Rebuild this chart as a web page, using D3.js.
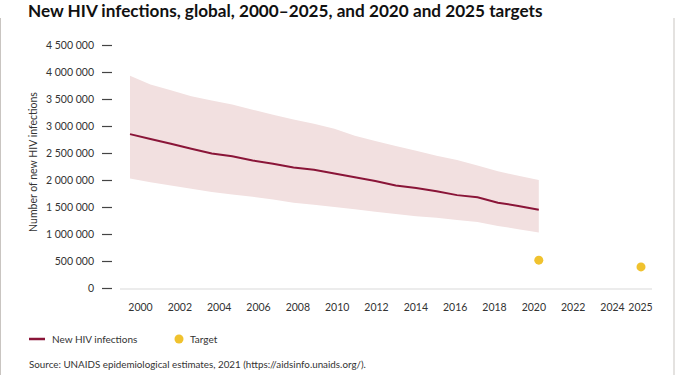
<!DOCTYPE html>
<html>
<head>
<meta charset="utf-8">
<script src="https://cdn.jsdelivr.net/npm/d3@7"></script>
<style>
  body { margin: 0; background: #fff; }
  svg { display: block; font-family: Lato, "Open Sans", sans-serif; }
</style>
</head>
<body>
<div id="chart"></div>
<script>
// data
const years = d3.range(2000, 2021);
const infections = [2850000, 2760000, 2670000, 2580000, 2490000, 2440000, 2360000, 2300000, 2230000, 2190000, 2120000,
    2050000, 1980000, 1900000, 1850000, 1790000, 1720000, 1680000, 1580000, 1520000, 1450000];
const upper = [3930000, 3770000, 3660000, 3550000, 3470000, 3400000, 3300000, 3210000, 3120000, 3040000, 2950000,
    2820000, 2720000, 2630000, 2540000, 2450000, 2370000, 2270000, 2160000, 2080000, 2000000];
const lower = [2030000, 1960000, 1900000, 1840000, 1780000, 1730000, 1690000, 1640000, 1580000, 1540000, 1500000,
    1460000, 1410000, 1370000, 1330000, 1300000, 1260000, 1220000, 1150000, 1090000, 1030000];
const targetYears = [2020, 2025];
const targets = [515000, 390000];
const xTicks = [2000, 2002, 2004, 2006, 2008, 2010, 2012, 2014, 2016, 2018, 2020, 2022, 2024, 2025];
const yTicks = d3.range(0, 4500001, 500000);

(function () {
    let width = 675, height = 375;
    let svg = d3.select("#chart")
        .append("svg")
        .attr("width", width)
        .attr("height", height);

    let x = d3.scaleLinear()
        .domain([2000, 2025])
        .range([130, 641]);
    // tick labels in the original are spaced on their own grid
    let xLabel = d3.scaleLinear()
        .domain([2000, 2024, 2025])
        .range([140, 612, 640]);
    let y = d3.scaleLinear()
        .domain([0, 4500000])
        .range([288, 45]);

    // frame
    svg.append("line")
        .attr("x1", 0.5).attr("x2", 0.5)
        .attr("y1", 18).attr("y2", height)
        .attr("stroke", "#c9c5c1");
    svg.append("line")
        .attr("x1", 674).attr("x2", 674)
        .attr("y1", 18).attr("y2", height)
        .attr("stroke", "#c9c5c1");

    // title
    let title = svg.append("text")
        .attr("x", 28)
        .attr("y", 17)
        .attr("font-size", "15px")
        .attr("font-weight", "bold")
        .attr("fill", "#111")
        .text("New HIV infections, global, 2000–2025, and 2020 and 2025 targets");
    let tl = title.node().getComputedTextLength();
    title.attr("font-size", (15 * 515 / tl).toFixed(2) + "px");

    // y axis
    let yAxis = svg.append("g")
        .attr("transform", "translate(112,0)")
        .call(d3.axisLeft(y).tickValues(yTicks).tickSize(10).tickPadding(8)
            .tickFormat(d => d3.format(",")(d).replace(/,/g, " ")));
    yAxis.select(".domain").remove();
    yAxis.selectAll(".tick line").attr("stroke", "#444").attr("stroke-width", 1.2);
    yAxis.selectAll(".tick text")
        .attr("font-family", "Lato, sans-serif")
        .attr("font-size", "10.5px")
        .attr("fill", "#333");

    svg.append("text")
        .attr("transform", "translate(37,162) rotate(-90)")
        .attr("text-anchor", "middle")
        .attr("font-size", "10.5px")
        .attr("fill", "#333")
        .text("Number of new HIV infections");

    // x baseline
    svg.append("line")
        .attr("x1", 120).attr("x2", 652)
        .attr("y1", y(0) + 1).attr("y2", y(0) + 1)
        .attr("stroke", "#e6e6e6")
        .attr("stroke-width", 1.5);

    let xAxis = svg.append("g")
        .attr("transform", "translate(0,296)")
        .call(d3.axisBottom(xLabel).tickValues(xTicks).tickSize(0).tickPadding(8).tickFormat(d3.format("d")));
    xAxis.select(".domain").remove();
    xAxis.selectAll(".tick text")
        .attr("font-family", "Lato, sans-serif")
        .attr("font-size", "10.5px")
        .attr("fill", "#333");

    // uncertainty band
    let area = d3.area()
        .x((d, i) => x(years[i]))
        .y0((d, i) => y(lower[i]))
        .y1((d, i) => y(upper[i]));
    svg.append("path")
        .datum(years)
        .attr("d", area)
        .attr("fill", "#f2e0e0");

    let line = d3.line()
        .x((d, i) => x(years[i]))
        .y(d => y(d));
    svg.append("path")
        .datum(infections)
        .attr("d", line)
        .attr("fill", "none")
        .attr("stroke", "#8a1538")
        .attr("stroke-width", 2);

    svg.selectAll(".target")
        .data(targets)
        .enter()
        .append("circle")
        .attr("class", "target")
        .attr("cx", (d, i) => x(targetYears[i]))
        .attr("cy", d => y(d))
        .attr("r", 4.5)
        .attr("fill", "#f0c22e");

    // legend
    svg.append("line")
        .attr("x1", 29).attr("x2", 45)
        .attr("y1", 339).attr("y2", 339)
        .attr("stroke", "#8a1538")
        .attr("stroke-width", 2.5);
    svg.append("text")
        .attr("x", 52).attr("y", 342.5)
        .attr("font-size", "10px")
        .attr("fill", "#333")
        .text("New HIV infections");
    svg.append("circle")
        .attr("cx", 179).attr("cy", 339)
        .attr("r", 4.5)
        .attr("fill", "#f0c22e");
    svg.append("text")
        .attr("x", 190).attr("y", 342.5)
        .attr("font-size", "10px")
        .attr("fill", "#333")
        .text("Target");

    svg.append("text")
        .attr("x", 29).attr("y", 368)
        .attr("font-size", "9.8px")
        .attr("fill", "#333")
        .text("Source: UNAIDS epidemiological estimates, 2021 (https://aidsinfo.unaids.org/).");
})()
</script>
</body>
</html>
